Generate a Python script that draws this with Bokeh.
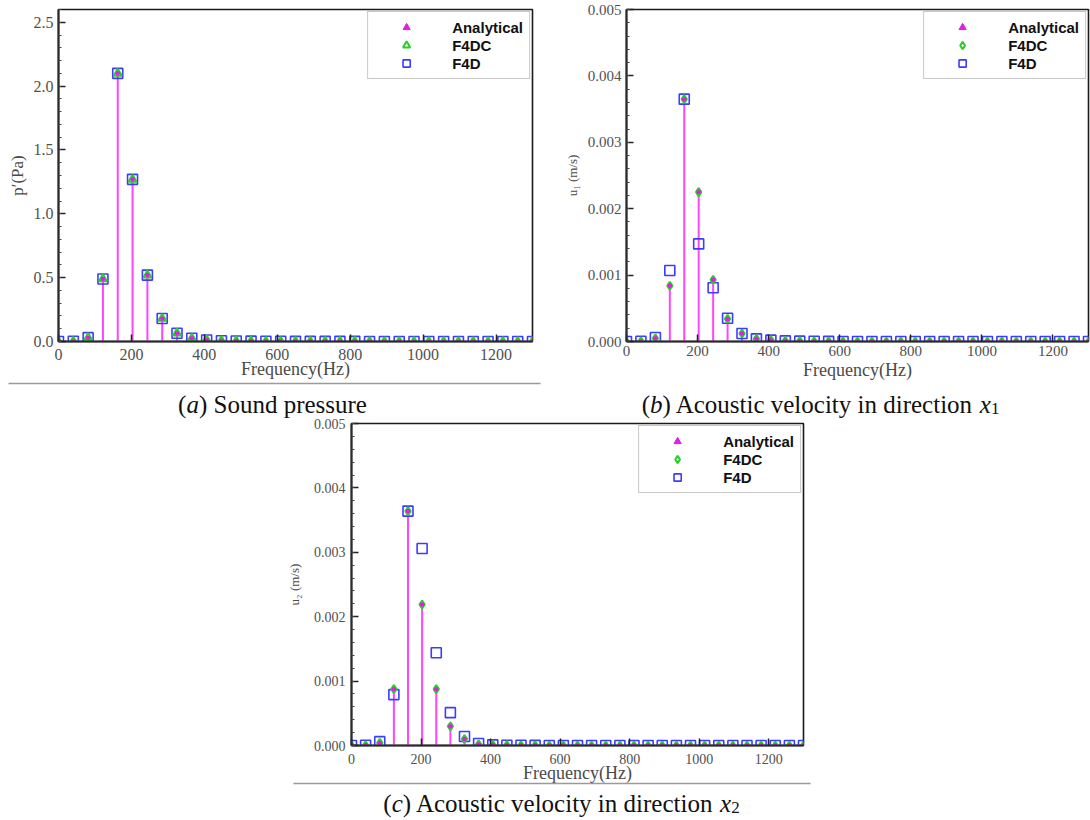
from bokeh.plotting import figure
from bokeh.models import (Range1d, SingleIntervalTicker, PrintfTickFormatter,
                          Legend, LegendItem, ColumnDataSource)
from bokeh.layouts import column, row
from bokeh.embed import file_html
from bokeh.resources import INLINE
from bokeh.core.properties import value

# ---------------- data ----------------
freq = [0.0, 40.6, 81.3, 121.9, 162.5, 203.1, 243.8, 284.4, 325.0, 365.6, 406.3,
        446.9, 487.5, 528.1, 568.8, 609.4, 650.0, 690.6, 731.3, 771.9, 812.5,
        853.1, 893.8, 934.4, 975.0, 1015.6, 1056.3, 1096.9, 1137.5, 1178.1,
        1218.8, 1259.4, 1300.0]

p_analytical = [0.0, 0.002, 0.03, 0.49, 2.10, 1.27, 0.52, 0.18, 0.065, 0.025, 0.012,
                0.006, 0.004, 0.003, 0.002, 0.002, 0.001, 0.001, 0.001, 0.001, 0.001,
                0.0, 0.0, 0.0, 0.0, 0.0, 0.0, 0.0, 0.0, 0.0, 0.0, 0.0, 0.0]
p_f4dc = list(p_analytical)
p_f4d = list(p_analytical)

u1_analytical = [0.0, 0.000003, 0.00005, 0.00084, 0.00365, 0.00225, 0.00093, 0.00034,
                 0.00012, 0.00004, 0.00002, 0.00001, 0.000005, 0.000003, 0.000002,
                 0.000001, 0.0, 0.0, 0.0, 0.0, 0.0, 0.0, 0.0, 0.0, 0.0, 0.0, 0.0, 0.0,
                 0.0, 0.0, 0.0, 0.0, 0.0]
u1_f4dc = list(u1_analytical)
u1_f4d = [0.0, 0.000003, 0.00006, 0.00107, 0.00365, 0.00147, 0.00081, 0.00035,
          0.00012, 0.00004, 0.00002, 0.00001, 0.000005, 0.000003, 0.000002,
          0.000001, 0.0, 0.0, 0.0, 0.0, 0.0, 0.0, 0.0, 0.0, 0.0, 0.0, 0.0, 0.0,
          0.0, 0.0, 0.0, 0.0, 0.0]

u2_analytical = [0.0, 0.000003, 0.00004, 0.000875, 0.00364, 0.00219, 0.000875, 0.0003,
                 0.0001, 0.00002, 0.00001, 0.000005, 0.000003, 0.000002, 0.000001,
                 0.0, 0.0, 0.0, 0.0, 0.0, 0.0, 0.0, 0.0, 0.0, 0.0, 0.0, 0.0, 0.0,
                 0.0, 0.0, 0.0, 0.0, 0.0]
u2_f4dc = list(u2_analytical)
u2_f4d = [0.0, 0.000003, 0.00006, 0.00079, 0.00364, 0.00306, 0.00144, 0.00051,
          0.00014, 0.00003, 0.00001, 0.000005, 0.000003, 0.000002, 0.000001,
          0.0, 0.0, 0.0, 0.0, 0.0, 0.0, 0.0, 0.0, 0.0, 0.0, 0.0, 0.0, 0.0,
          0.0, 0.0, 0.0, 0.0, 0.0]

series_names = ["Analytical", "F4DC", "F4D"]
x_label = "Frequency(Hz)"

# ---------------- style ----------------
STEM = "#ff45ff"
DOT = "#e21ee2"
GREEN = "#25d025"
BLUE = "#3c3cff"
SERIF = "Liberation Serif"
SANS = "Liberation Sans"


def panel(width, height, bl, br, bt, frame_h, ymax, yint, yfmt, ylabel,
          ana, f4dc, f4d, f4dc_marker, tick_fs, ylab_fs, ylab_stand, ytick_stand,
          xtick_stand, xlab_stand):
    bb = height - bt - frame_h
    p = figure(width=width, height=height, x_range=Range1d(0, 1300),
               y_range=Range1d(0, ymax), output_backend="svg", toolbar_location=None,
               min_border_left=bl, min_border_right=br, min_border_top=bt,
               min_border_bottom=bb)
    p.border_fill_alpha = 0
    src = ColumnDataSource(dict(f=freq, ana=ana, f4dc=f4dc, f4d=f4d))
    p.segment(x0="f", y0=0, x1="f", y1="ana", source=src, line_color=STEM, line_width=2)
    r_f4d = p.scatter("f", "f4d", source=src, marker="square", size=10,
                      fill_color=None, line_color=BLUE, line_width=1.6)
    r_f4dc = p.scatter("f", "f4dc", source=src, marker=f4dc_marker, size=8,
                       fill_color=None, line_color=GREEN, line_width=2)
    p.scatter("f", "ana", source=src, marker="circle", size=4.5,
              fill_color=DOT, line_color=None)
    # legend-only symbol for the analytical series (kept outside the visible range)
    r_leg = p.scatter(x=[-1000], y=[-1], marker="triangle", size=6,
                      fill_color=DOT, line_color=DOT)

    legend = Legend(items=[LegendItem(label=series_names[0], renderers=[r_leg]),
                           LegendItem(label=series_names[1], renderers=[r_f4dc]),
                           LegendItem(label=series_names[2], renderers=[r_f4d])],
                    location="top_right", margin=2, padding=6, spacing=0,
                    glyph_width=64, glyph_height=18, label_standoff=14,
                    label_height=16,
                    label_text_font=SANS, label_text_font_style="bold",
                    label_text_font_size="15px", label_text_color="#111111",
                    border_line_color="#8f8f8f", border_line_width=1.5,
                    background_fill_color="white", background_fill_alpha=1.0)
    p.add_layout(legend)

    p.grid.visible = False
    p.outline_line_color = "#1a1a1a"
    p.outline_line_width = 1.6

    p.xaxis.ticker = SingleIntervalTicker(interval=200, num_minor_ticks=2)
    p.yaxis.ticker = SingleIntervalTicker(interval=yint, num_minor_ticks=5)
    p.yaxis.formatter = PrintfTickFormatter(format=yfmt)
    for ax in (p.xaxis[0], p.yaxis[0]):
        ax.axis_line_color = "#2a2a2a"
        ax.axis_line_width = 2
        ax.major_tick_in = 7
        ax.major_tick_out = 0
        ax.minor_tick_in = 3
        ax.minor_tick_out = 0
        ax.major_tick_line_color = "#222222"
        ax.major_tick_line_width = 1.5
        ax.minor_tick_line_color = "#444444"
        ax.major_label_text_font = SERIF
        ax.major_label_text_font_size = tick_fs
        ax.major_label_text_color = "#505050"
        ax.axis_label_text_font = SERIF
        ax.axis_label_text_font_style = "normal"
        ax.axis_label_text_color = "#4a4a4a"
    p.xaxis.minor_tick_line_color = None
    p.xaxis.major_label_standoff = xtick_stand
    p.xaxis.axis_label = x_label
    p.xaxis.axis_label_text_font_size = "18px"
    p.xaxis.axis_label_standoff = xlab_stand
    p.yaxis.major_label_standoff = ytick_stand
    p.yaxis.axis_label = ylabel
    p.yaxis.axis_label_text_font_size = ylab_fs
    p.yaxis.axis_label_standoff = ylab_stand
    return p


# panels (page coordinates: the page has no body margin)
fig_a = panel(560, 395, 58, 28, 6, 339, 2.6, 0.5, "%.1f", "p\u2032(Pa)",
              p_analytical, p_f4dc, p_f4d, "triangle", "16px", "17px", 4, 5, 7, -4)
fig_b = panel(530, 395, 66, 2, 9, 332, 0.005, 0.001, "%.3f", "u\u2081 (m/s)",
              u1_analytical, u1_f4dc, u1_f4d, "diamond", "15px", "13px", 5, 5, 4, 1)
fig_c = panel(1090, 380, 351, 287, 8, 322, 0.005, 0.001, "%.3f", "u\u2082 (m/s)",
              u2_analytical, u2_f4dc, u2_f4d, "diamond", "14px", "13px", 9, 6, 8, -4)

# ---------------- caption bands (transparent, overlapping the axis area) ----------------
TNR = {" ": 250, "(": 333, ")": 333, "A": 722, "S": 556, "c": 444, "d": 500, "e": 444,
       "i": 278, "l": 278, "n": 500, "o": 500, "p": 500, "r": 333, "s": 389, "t": 278,
       "u": 500, "v": 500, "y": 500, "1": 500, "2": 500}
TNR_I = {"a": 500, "b": 500, "c": 444, "x": 444}


def tw(s, size, italic):
    t = TNR_I if italic else TNR
    return sum(t.get(ch, 500) for ch in s) * size / 1000.0


def band(height, margin_top):
    b = figure(width=1090, height=height, x_range=Range1d(0, 1090),
               y_range=Range1d(0, height), output_backend="svg", toolbar_location=None,
               min_border_left=0, min_border_right=0, min_border_top=0,
               min_border_bottom=0)
    b.axis.visible = False
    b.grid.visible = False
    b.outline_line_color = None
    b.background_fill_alpha = 0
    b.border_fill_alpha = 0
    b.margin = (margin_top, 0, 0, 0)
    return b


def caption(b, xc, y, parts):
    total = sum(tw(t, s, it) for t, it, s, dy in parts)
    x = xc - total / 2.0
    for t, it, s, dy in parts:
        b.text(x=[x], y=[y + dy], text=[t], text_font=value(SERIF),
               text_font_size=f"{s}px", text_font_style="italic" if it else "normal",
               text_baseline="alphabetic", text_align="left", text_color="#111111")
        x += tw(t, s, it)


# band 1: page y 378 -> 420
cap1 = band(42, -17)
cap1.segment(x0=[8], y0=[37], x1=[540], y1=[37], line_color="#9a9a9a", line_width=1.5)
caption(cap1, 272, 16, [("(", False, 25, 0), ("a", True, 25, 0),
                        (") Sound pressure", False, 25, 0)])
caption(cap1, 820, 16, [("(", False, 25, 0), ("b", True, 25, 0),
                        (") Acoustic velocity in direction ", False, 25, 0),
                        ("x", True, 25, 0), ("1", False, 17, -4)])

row_c = row(fig_c)
row_c.margin = (-5, 0, 0, 0)

# band 2: page y 778 -> 820
cap2 = band(42, -17)
cap2.segment(x0=[293], y0=[37], x1=[810], y1=[37], line_color="#9a9a9a", line_width=1.5)
caption(cap2, 561, 17, [("(", False, 25, 0), ("c", True, 25, 0),
                        (") Acoustic velocity in direction ", False, 25, 0),
                        ("x", True, 25, 0), ("2", False, 17, -4)])

layout = column(row(fig_a, fig_b), cap1, row_c, cap2)
open("out.html", "w").write(file_html(layout, INLINE))
